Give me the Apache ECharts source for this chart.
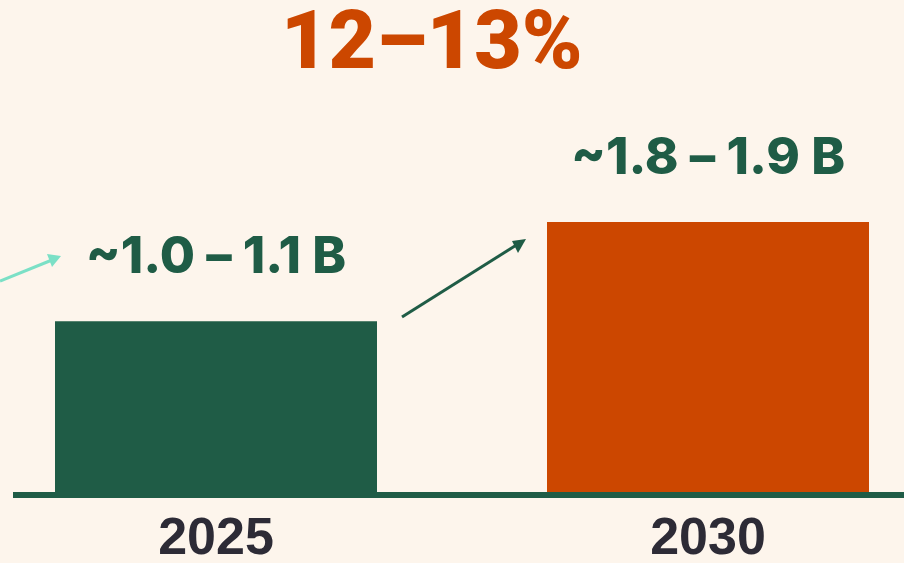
<!DOCTYPE html>
<html>
<head>
<meta charset="utf-8">
<script src="https://cdn.jsdelivr.net/npm/echarts@6/dist/echarts.min.js"></script>
<style>
html,body{margin:0;padding:0;background:#fdf5ec;}
#c{width:904px;height:563px;}
</style>
</head>
<body>
<div id="c"></div>
<script>
const categories = ['2025', '2030'];
const barValues = [1.05, 1.65];
const barLabels = ['~1.0 \u2013 1.1 B', '~1.8 \u2013 1.9 B'];
const growthLabel = '12\u201313%';
const barColors = ['#1f5c46', '#cc4700'];

const chart = echarts.init(document.getElementById('c'), null, {renderer: 'canvas'});
chart.setOption({
  backgroundColor: '#fdf5ec',
  animation: false,
  title: {
    text: growthLabel,
    left: 276,
    top: 1,
    textStyle: {
      fontFamily: 'Roboto',
      fontWeight: 900,
      fontSize: 82,
      lineHeight: 82,
      color: '#cc4700'
    }
  },
  grid: {left: -30, right: -50, top: 164, bottom: 68, outerBoundsMode: 'none', containLabel: false},
  xAxis: {
    type: 'category',
    data: categories,
    axisLine: {show: false},
    axisTick: {show: false},
    axisLabel: {
      margin: 19,
      fontFamily: 'Liberation Sans',
      fontWeight: 'bold',
      fontSize: 52,
      lineHeight: 52,
      color: '#2d2b36'
    }
  },
  yAxis: {
    type: 'value',
    min: 0,
    max: 2,
    show: false,
    splitLine: {show: false}
  },
  series: [{
    type: 'bar',
    barWidth: 322,
    data: barValues.map((v, i) => ({
      value: v,
      itemStyle: {color: barColors[i]},
      label: {formatter: barLabels[i]}
    })),
    label: {
      show: true,
      position: 'top',
      distance: 38,
      fontFamily: 'Inter',
      fontWeight: 800,
      fontSize: 51,
      lineHeight: 51,
      color: '#1f5c46'
    }
  }],
  graphic: [
    {
      type: 'rect',
      shape: {x: 13, y: 492, width: 891, height: 6},
      style: {fill: '#1f5c46'},
      z: 10
    },
    {
      type: 'line',
      shape: {x1: 0, y1: 281, x2: 52, y2: 260},
      style: {stroke: '#7be0c6', lineWidth: 3}
    },
    {
      type: 'polygon',
      shape: {points: [[61, 256], [47, 254], [52, 267]]},
      style: {fill: '#7be0c6'}
    },
    {
      type: 'line',
      shape: {x1: 402, y1: 317, x2: 518, y2: 244},
      style: {stroke: '#1f5c46', lineWidth: 3}
    },
    {
      type: 'polygon',
      shape: {points: [[526, 239], [512, 241], [518, 253]]},
      style: {fill: '#1f5c46'}
    }
  ]
});
</script>
</body>
</html>
